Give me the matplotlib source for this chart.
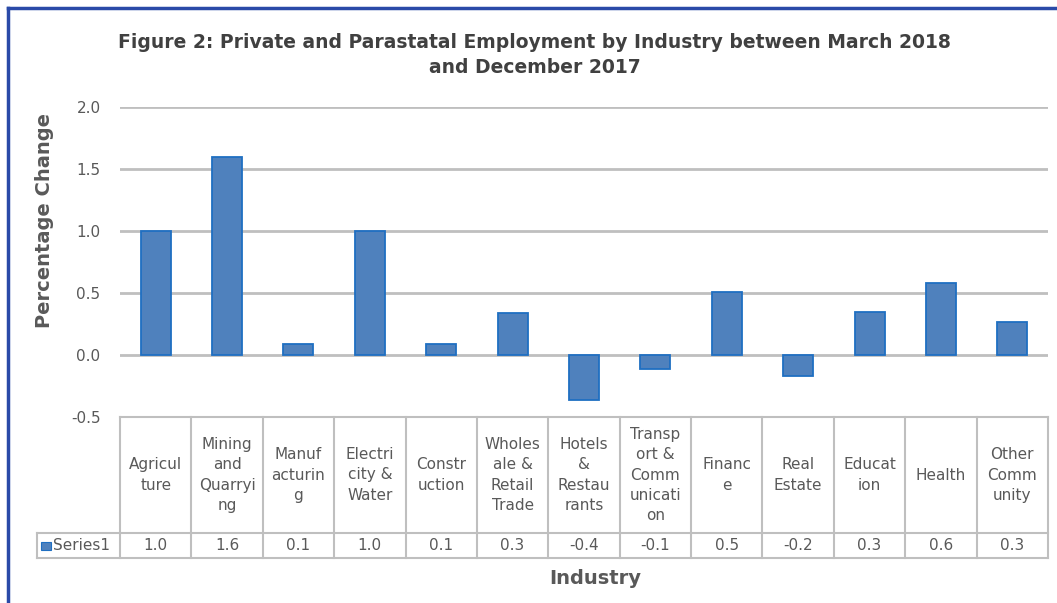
import matplotlib.pyplot as plt
from matplotlib.transforms import blended_transform_factory
from matplotlib.lines import Line2D
from matplotlib.patches import Rectangle

# data
industries = ['Agricul\nture', 'Mining\nand\nQuarryi\nng', 'Manuf\nacturin\ng', 'Electri\ncity &\nWater',
              'Constr\nuction', 'Wholes\nale &\nRetail\nTrade', 'Hotels\n&\nRestau\nrants',
              'Transp\nort &\nComm\nunicati\non', 'Financ\ne', 'Real\nEstate', 'Educat\nion', 'Health',
              'Other\nComm\nunity']
change = [1.0, 1.6, 0.09, 1.0, 0.09, 0.34, -0.36, -0.11, 0.51, -0.17, 0.35, 0.58, 0.27]
series_name = 'Series1'
yticks = [-0.5, 0.0, 0.5, 1.0, 1.5, 2.0]

W, H = 1057, 603
def fx(x):
    return x / W
def fy(y):
    return 1 - y / H

grid_col = '#bfbfbf'
text_col = '#595959'
bar_col = '#4f81bd'

fig = plt.figure(figsize=(W / 100, H / 100), dpi=100)
ax = fig.add_axes([fx(120), fy(417), fx(1048) - fx(120), fy(107) - fy(417)])

x = list(range(len(change)))
ax.bar(x, change, width=0.42, color=bar_col, edgecolor='#1f6fc2', linewidth=1.3, zorder=3)
ax.set_xlim(-0.5, len(change) - 0.5)
ax.set_ylim(-0.5, 2.0)
ax.set_yticks(yticks)
ax.set_yticklabels([f'{t:.1f}' for t in yticks], color=text_col, fontsize=11)
ax.tick_params(axis='y', length=0, pad=14)
ax.set_xticks([])
for s in ax.spines.values():
    s.set_visible(False)
for t in yticks[1:]:
    ax.axhline(t, color=grid_col, lw=2, zorder=1)

ax.set_ylabel('Percentage Change', fontsize=14, fontweight='bold', color=text_col)
ax.yaxis.set_label_coords(fx(45) - fx(120), (fy(220) - fy(417)) / (fy(107) - fy(417)))

fig.text(0.506, fy(55), 'Figure 2: Private and Parastatal Employment by Industry between March 2018\nand December 2017',
         ha='center', va='center', fontsize=13.5, fontweight='bold', color='#404040', linespacing=1.4)

# data table under the axis
tr = blended_transform_factory(ax.transData, fig.transFigure)
n = len(change)
y_top, y_mid, y_bot = fy(417), fy(533), fy(558)
for i in range(n + 1):
    fig.add_artist(Line2D([i - 0.5, i - 0.5], [y_top, y_bot], transform=tr, color=grid_col, lw=1.5))
fig.add_artist(Line2D([-0.5, n - 0.5], [y_top, y_top], transform=tr, color=grid_col, lw=1.5))
for yy in (y_mid, y_bot):
    fig.add_artist(Line2D([fx(37), fx(1048)], [yy, yy], transform=fig.transFigure, color=grid_col, lw=1.5))
fig.add_artist(Line2D([fx(37), fx(37)], [y_mid, y_bot], transform=fig.transFigure, color=grid_col, lw=1.5))

for i, (lab, v) in enumerate(zip(industries, change)):
    fig.text(i, fy(475), lab, transform=tr, ha='center', va='center', fontsize=11,
             color=text_col, linespacing=1.45)
    fig.text(i, fy(546), f'{v:.1f}', transform=tr, ha='center', va='center', fontsize=11, color=text_col)

fig.add_artist(Rectangle((fx(41), fy(550)), fx(10), fy(542) - fy(550), transform=fig.transFigure,
                         facecolor=bar_col, edgecolor='#1f6fc2', lw=0.8))
fig.text(fx(53), fy(546), series_name, ha='left', va='center', fontsize=11, color=text_col)

fig.text(fx(595), fy(578), 'Industry', ha='center', va='center', fontsize=14, fontweight='bold', color=text_col)

# blue frame on left and top
fig.add_artist(Line2D([fx(8), fx(8)], [0, fy(8)], transform=fig.transFigure, color='#2a4aa8', lw=2.5))
fig.add_artist(Line2D([fx(8), 1], [fy(8), fy(8)], transform=fig.transFigure, color='#2a4aa8', lw=2.5))

fig.savefig('out.png', dpi=100)
